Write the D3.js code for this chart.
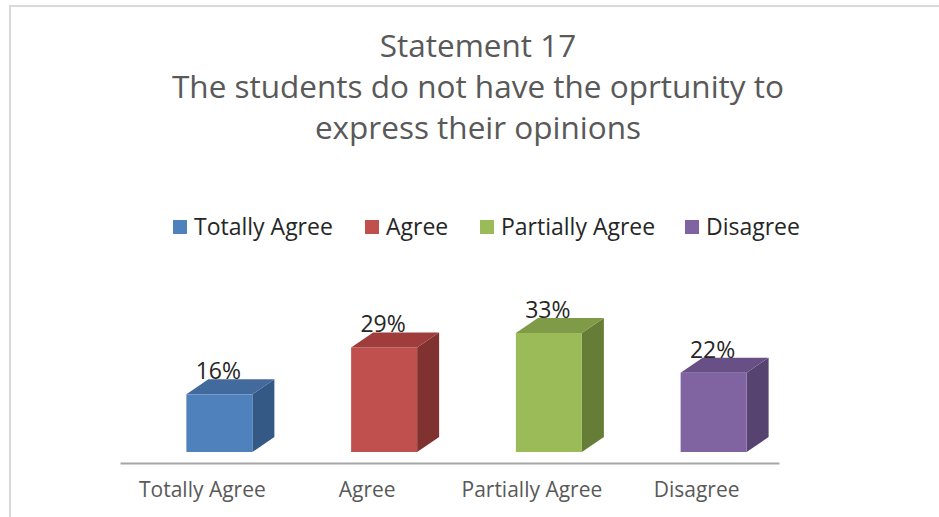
<!DOCTYPE html>
<html>
<head>
<meta charset="utf-8">
<script src="https://cdn.jsdelivr.net/npm/d3@7"></script>
<style>
  html, body { margin: 0; padding: 0; background: #fff; }
  svg { display: block; }
  text { font-family: "Open Sans", "Liberation Sans", sans-serif; }
</style>
</head>
<body>
<svg id="chart" width="939" height="517"></svg>
<script>
// Survey answers for statement 17
const categories = ["Totally Agree", "Agree", "Partially Agree", "Disagree"];
const values = [16, 29, 33, 22];
const titleLines = ["Statement 17", "The students do not have the oprtunity to", "express their opinions"];
const frontColors = ["#4f81bd", "#c0504d", "#9bbb59", "#8064a2"];
const sideColors  = ["#355985", "#7f3230", "#667d38", "#56436f"];
const topColors   = ["#426a9c", "#9e3d3b", "#7f9b47", "#684f86"];

const svg = d3.select("#chart");
const W = 939, H = 517;

// chart frame
svg.append("path")
  .attr("d", `M10,${H} L10,6 L${W},6`)
  .attr("fill", "none")
  .attr("stroke", "#d9d9d9")
  .attr("stroke-width", 2);

// title
const title = svg.append("text")
  .attr("text-anchor", "middle")
  .attr("fill", "#595959")
  .attr("font-size", 31.5);
titleLines.forEach((t, i) => {
  title.append("tspan").attr("x", 478).attr("y", 57 + i * 41).text(t);
});

// scales
const x = d3.scaleBand().domain(categories).range([120, 779]).paddingInner(0).paddingOuter(0);
const y = d3.scaleLinear().domain([0, 33]).range([452, 333]);

const barW = 66, dx = 22, dy = -15, shift = 17;

// legend
const legendX = [173, 365, 480, 685];
const legend = svg.append("g");
categories.forEach((c, i) => {
  const g = legend.append("g").attr("transform", `translate(${legendX[i]},0)`);
  g.append("rect").attr("x", 0).attr("y", 220).attr("width", 14).attr("height", 14).attr("fill", frontColors[i]);
  g.append("text").attr("x", 21).attr("y", 235).attr("font-size", 23).attr("fill", "#262626").text(c);
});

// 3D bars
const bars = svg.append("g");
categories.forEach((c, i) => {
  const x0 = x(c) + x.bandwidth() / 2 - barW / 2 + shift;
  const x1 = x0 + barW;
  const yT = y(values[i]);
  const yB = y(0);
  const g = bars.append("g");
  // side face
  g.append("path")
    .attr("d", `M${x1},${yB} L${x1 + dx},${yB + dy} L${x1 + dx},${yT + dy} L${x1},${yT} Z`)
    .attr("fill", sideColors[i]);
  // top face
  g.append("path")
    .attr("d", `M${x0},${yT} L${x0 + dx},${yT + dy} L${x1 + dx},${yT + dy} L${x1},${yT} Z`)
    .attr("fill", topColors[i]);
  // front face
  g.append("rect")
    .attr("x", x0).attr("y", yT)
    .attr("width", barW).attr("height", yB - yT)
    .attr("fill", frontColors[i]);
  // value label
  g.append("text")
    .attr("x", x0 + barW / 2 - 1)
    .attr("y", yT + dy)
    .attr("text-anchor", "middle")
    .attr("font-size", 23)
    .attr("fill", "#262626")
    .text(values[i] + "%");
});

// category axis
const axis = svg.append("g").attr("transform", "translate(0,463)")
  .call(d3.axisBottom(x).tickSize(0).tickPadding(19));
axis.select(".domain").attr("stroke", "#a6a6a6").attr("stroke-width", 2);
axis.selectAll(".tick text")
  .attr("font-size", 21)
  .attr("fill", "#595959")
  .attr("font-family", "\"Open Sans\", \"Liberation Sans\", sans-serif");
</script>
</body>
</html>
